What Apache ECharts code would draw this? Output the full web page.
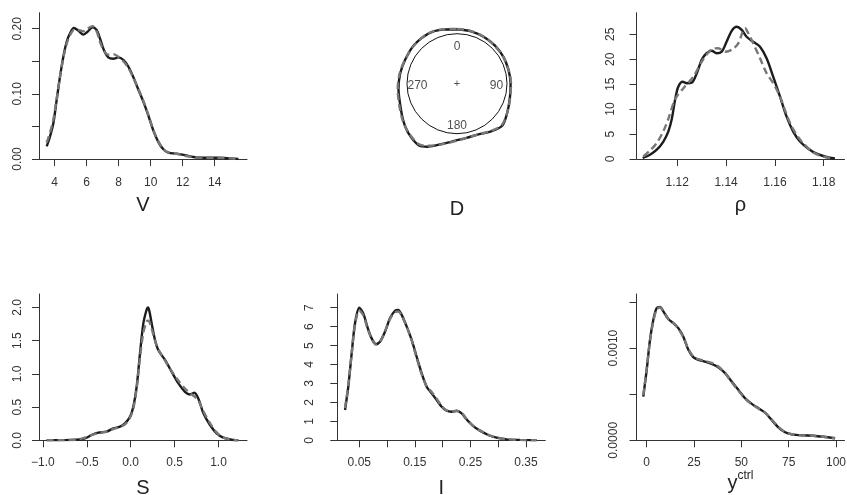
<!DOCTYPE html>
<html><head><meta charset="utf-8">
<script src="https://cdn.jsdelivr.net/npm/echarts@6/dist/echarts.min.js"></script>
<style>html,body{margin:0;padding:0;background:#fff}#c{width:847px;height:495px}</style>
</head><body><div id="c"></div>
<script>
// ---------- Panel V ----------
const V_x = [3.5,3.7,3.91,4.12,4.33,4.54,4.75,4.96,5.2,5.48,5.79,6.04,6.37,6.62,6.83,7.08,7.35,7.66,7.98,8.29,8.6,8.91,9.22,9.54,9.85,10.16,10.48,10.79,11.1,11.6,12.14,12.66,13.29,14.1,14.95,15.48];
const V_solid = [0.0195,0.034,0.054,0.090,0.126,0.157,0.180,0.193,0.201,0.197,0.191,0.195,0.202,0.198,0.185,0.167,0.156,0.154,0.156,0.152,0.142,0.126,0.107,0.088,0.067,0.044,0.026,0.015,0.0098,0.0083,0.006,0.003,0.002,0.002,0.001,0.0];
const V_dashed = [0.025,0.04,0.06,0.092,0.126,0.155,0.177,0.19,0.198,0.198,0.196,0.200,0.204,0.196,0.18,0.166,0.16,0.161,0.157,0.15,0.14,0.125,0.108,0.089,0.068,0.045,0.027,0.015,0.01,0.008,0.005,0.003,0.002,0.002,0.001,0.0];
const V_xticks = [4,6,8,10,12,14];
const V_yticks = [0,0.05,0.10,0.15,0.20];
const V_ylabels = [0,0.10,0.20];

// ---------- Panel D (circular) ----------
const D_angle = [0,15,30,45,60,75,90,105,120,133,145,157,170,180,192,205,212,224,236,250,265,280,295,312,330,345,360];
const D_solid = [1.09,1.085,1.08,1.075,1.072,1.066,1.072,1.095,1.16,1.235,1.17,1.10,1.10,1.13,1.22,1.39,1.45,1.39,1.30,1.21,1.175,1.155,1.142,1.155,1.155,1.12,1.09];
const D_dashed = [1.095,1.09,1.08,1.07,1.07,1.07,1.08,1.10,1.16,1.22,1.16,1.10,1.10,1.14,1.23,1.37,1.43,1.38,1.31,1.23,1.19,1.165,1.145,1.15,1.16,1.125,1.095];
const D_labels = [0,90,180,270];

// ---------- Panel rho ----------
const R_x = [1.1058,1.1088,1.1116,1.1143,1.1163,1.1177,1.1191,1.1204,1.1222,1.1239,1.1259,1.128,1.13,1.132,1.1341,1.1361,1.1382,1.1402,1.1423,1.1443,1.1464,1.1484,1.1511,1.1539,1.1566,1.1593,1.1621,1.1648,1.1675,1.1703,1.1737,1.1771,1.1812,1.1846];
const R_solid = [0.2,0.86,1.86,3.5,5.5,7.9,11.9,14.5,15.5,15.2,15.3,17.2,19.9,21.2,21.7,21.2,21.5,23.5,25.7,26.5,25.9,24.5,23.5,22.5,20.2,16.5,12.5,8.5,5.5,3.5,2.06,1.06,0.4,0.1];
const R_xd = [1.1061,1.1088,1.1116,1.1143,1.1163,1.1191,1.1225,1.1266,1.13,1.1341,1.1368,1.1396,1.1423,1.145,1.1468,1.1478,1.1491,1.1511,1.1539,1.1566,1.1593,1.1621,1.1662,1.1703,1.1757,1.1798,1.184];
const R_dashed = [0.5,1.7,3.2,5.6,8.0,12.0,14.2,16.5,19.5,22.0,22.2,21.5,21.9,23.2,25.5,26.2,25.2,23.2,20.2,17.2,15.2,12.5,7.2,3.9,1.3,0.5,0.1];
const R_xticks = [1.12,1.14,1.16,1.18];
const R_yticks = [0,5,10,15,20,25];

// ---------- Panel S ----------
const S_x = [-0.957,-0.615,-0.52,-0.444,-0.369,-0.273,-0.198,-0.122,-0.065,-0.008,0.03,0.068,0.106,0.144,0.182,0.197,0.212,0.239,0.277,0.314,0.391,0.467,0.542,0.618,0.675,0.725,0.77,0.827,0.903,0.979,1.055,1.169,1.226];
const S_solid = [0.0,0.01,0.03,0.08,0.115,0.13,0.18,0.205,0.256,0.355,0.506,0.807,1.31,1.76,1.97,2.0,1.95,1.76,1.51,1.36,1.21,1.03,0.86,0.73,0.69,0.717,0.63,0.41,0.23,0.105,0.04,0.005,0.0];
const S_dashed = [0.0,0.01,0.04,0.08,0.11,0.13,0.17,0.2,0.24,0.34,0.48,0.78,1.25,1.62,1.79,1.8,1.79,1.68,1.5,1.37,1.2,1.04,0.9,0.78,0.71,0.66,0.6,0.44,0.26,0.12,0.04,0.005,0.0];
const S_xticks = [-1.0,-0.5,0.0,0.5,1.0];
const S_yticks = [0,0.5,1.0,1.5,2.0];

// ---------- Panel I ----------
const I_x = [0.0243,0.0302,0.0363,0.0423,0.05,0.0572,0.0644,0.0723,0.08,0.0872,0.0962,0.1052,0.1142,0.1201,0.1263,0.1353,0.1442,0.1532,0.1622,0.1712,0.1802,0.1892,0.1982,0.2072,0.2162,0.2252,0.2342,0.2432,0.2551,0.2671,0.2821,0.2971,0.3151,0.339,0.369];
const I_solid = [1.6,2.83,4.59,6.18,7.0,6.7,6.0,5.38,5.08,5.2,5.73,6.44,6.84,6.88,6.62,6.0,5.3,4.41,3.54,2.83,2.48,2.13,1.77,1.56,1.51,1.56,1.42,1.1,0.75,0.51,0.28,0.14,0.05,0.02,0.0];
const I_dashed = [1.7,2.9,4.6,6.1,6.85,6.6,5.95,5.35,5.05,5.2,5.75,6.4,6.75,6.8,6.6,6.0,5.3,4.35,3.5,2.85,2.55,2.2,1.8,1.58,1.52,1.55,1.45,1.12,0.76,0.52,0.29,0.15,0.06,0.02,0.0];
const I_xticks = [0.05,0.10,0.15,0.20,0.25,0.30,0.35];
const I_xlabels = [0.05,0.15,0.25,0.35];
const I_yticks = [0,1,2,3,4,5,6,7];

// ---------- Panel y^ctrl ----------
const Y_x = [-1.8,0,1.74,3.5,5.28,7.03,8.8,11.4,14.1,16.7,19.3,22,24.6,27.3,30.8,34.3,37.8,41.4,44.9,48.4,51.9,55.5,59,62.5,66,69.5,73.1,76.6,81.9,88,93.3,99.5];
const Y_solid = [0.000474,0.000764,0.00109,0.001308,0.001435,0.001446,0.001398,0.001315,0.001272,0.001217,0.001126,0.000982,0.000902,0.000873,0.000854,0.000829,0.000793,0.000728,0.000637,0.000547,0.000457,0.000395,0.000348,0.000300,0.000221,0.000141,0.000087,0.000065,0.000054,0.000050,0.000039,0.000022];
const Y_dashed = [0.00049,0.00078,0.00108,0.00129,0.00142,0.00144,0.00140,0.00132,0.00127,0.00121,0.00112,0.00099,0.00091,0.00088,0.00086,0.00084,0.00080,0.00073,0.00063,0.00054,0.000455,0.00039,0.000345,0.00030,0.000225,0.000145,0.00009,0.000066,0.000054,0.00005,0.000038,0.000022];
const Y_xticks = [0,25,50,75,100];
const Y_yticks = [0,0.0005,0.0010,0.0015];
const Y_ylabels = [0,0.0010];

// ---------- build ----------
const FONT = "'Liberation Sans', Arial, Helvetica, sans-serif";
const AX = '#333';
const SOLID = '#1c1c1c';
const DASH = '#777777';
const LW = 2.4;
const pairs = (xs, ys) => xs.map((x, i) => [x, ys[i]]);
const num = d => v => (v < 0 ? '\u2212' : '') + Math.abs(v).toFixed(d);

const gridBase = {outerBoundsMode: 'none', containLabel: false};
const grids = [
  Object.assign({left: 39, top: 12.7, width: 208, height: 146.3}, gridBase),
  Object.assign({left: 636.5, top: 12.7, width: 208, height: 146.3}, gridBase),
  Object.assign({left: 39, top: 294, width: 208, height: 146.3}, gridBase),
  Object.assign({left: 337.3, top: 294, width: 208, height: 146.3}, gridBase),
  Object.assign({left: 636.5, top: 294, width: 208, height: 146.3}, gridBase)
];

function xAx(i, min, max, ticks, labels, fmt, lmargin, name, gap, nameStyle) {
  return {
    type: 'value', gridIndex: i, min, max,
    axisLine: {show: true, onZero: false, lineStyle: {color: AX, width: 1}},
    axisTick: {show: true, inside: false, length: 7, customValues: ticks, lineStyle: {color: AX, width: 1}},
    axisLabel: {show: true, customValues: labels, formatter: fmt, color: '#333', fontSize: 12, fontFamily: FONT, margin: lmargin},
    splitLine: {show: false},
    name, nameLocation: 'middle', nameGap: gap, nameMoveOverlap: false,
    nameTextStyle: nameStyle || {fontSize: 20, color: '#222', fontFamily: FONT, verticalAlign: 'middle'}
  };
}
function yAx(i, max, ticks, labels, fmt, margin) {
  return {
    type: 'value', gridIndex: i, min: 0, max,
    axisLine: {show: true, onZero: false, lineStyle: {color: AX, width: 1}},
    axisTick: {show: true, inside: false, length: 7, customValues: ticks, lineStyle: {color: AX, width: 1}},
    axisLabel: {show: true, customValues: labels, formatter: fmt, rotate: 90, color: '#333', fontSize: 12, fontFamily: FONT, margin},
    splitLine: {show: false}
  };
}

const xAxes = [
  xAx(0, 3.019, 16.019, V_xticks, V_xticks, num(0), 17.5, 'V', 46.8),
  xAx(1, 1.10328, 1.18853, R_xticks, R_xticks, num(2), 17.5, '\u03c1', 46.8),
  xAx(2, -1.0444, 1.3246, S_xticks, S_xticks, num(1), 16, 'S', 48.6),
  xAx(3, 0.01041, 0.38472, I_xticks, I_xlabels, num(2), 16, 'I', 48.6),
  xAx(4, -5.387, 104.47, Y_xticks, Y_xticks, num(0), 16, '{a|y}{b|ctrl}', 41.5, {
    fontFamily: FONT, color: '#222', verticalAlign: 'middle',
    rich: {a: {fontSize: 20, fontFamily: FONT, color: '#222', lineHeight: 24, verticalAlign: 'bottom'},
           b: {fontSize: 12, fontFamily: FONT, color: '#222', verticalAlign: 'top', lineHeight: 8}}
  })
];
const yAxes = [
  yAx(0, 0.2246, V_yticks, V_ylabels, num(2), 15.8),
  yAx(1, 29.33, R_yticks, R_yticks, num(0), 19.9),
  yAx(2, 2.203, S_yticks, S_yticks, num(1), 15.5),
  yAx(3, 7.724, I_yticks, I_yticks, num(0), 21.3),
  yAx(4, 0.001587, Y_yticks, Y_ylabels, num(4), 16.7)
];

function pair(i, xs, ys, xd, yd) {
  return [
    {type: 'line', xAxisIndex: i, yAxisIndex: i, data: pairs(xs, ys), smooth: 0.3, symbol: 'none',
     lineStyle: {color: SOLID, width: LW}, z: 3, silent: true},
    {type: 'line', xAxisIndex: i, yAxisIndex: i, data: pairs(xd, yd), smooth: 0.3, symbol: 'none',
     lineStyle: {color: DASH, width: LW, type: [7, 4]}, z: 4, silent: true}
  ];
}

const series = [].concat(
  pair(0, V_x, V_solid, V_x, V_dashed),
  pair(1, R_x, R_solid, R_xd, R_dashed),
  pair(2, S_x, S_solid, S_x, S_dashed),
  pair(3, I_x, I_solid, I_x, I_dashed),
  pair(4, Y_x, Y_solid, Y_x, Y_dashed),
  [
    {type: 'line', coordinateSystem: 'polar', polarIndex: 1, data: D_angle.map((a, i) => [D_solid[i], a]),
     smooth: 0.3, symbol: 'none', lineStyle: {color: SOLID, width: LW}, z: 3, silent: true},
    {type: 'line', coordinateSystem: 'polar', polarIndex: 1, data: D_angle.map((a, i) => [D_dashed[i], a]),
     smooth: 0.3, symbol: 'none', lineStyle: {color: DASH, width: LW, type: [7, 4]}, z: 4, silent: true},
    {type: 'scatter', coordinateSystem: 'polar', polarIndex: 1, symbolSize: 1, itemStyle: {color: 'rgba(0,0,0,0)'},
     data: D_labels.map(a => [0.79, a]), silent: true,
     label: {show: true, position: 'inside', formatter: p => String(p.value[1]), color: '#222', fontSize: 12, fontFamily: FONT, offset: [0, 2]}},
    {type: 'scatter', coordinateSystem: 'polar', polarIndex: 1, symbolSize: 1, itemStyle: {color: 'rgba(0,0,0,0)'},
     data: [[0, 0]], silent: true,
     label: {show: true, position: 'inside', formatter: '+', color: '#222', fontSize: 11, fontFamily: FONT}}
  ]
);

const option = {
  animation: false,
  backgroundColor: '#fff',
  title: [{text: 'D', left: 457, top: 199, textAlign: 'center', padding: 0,
           textStyle: {fontSize: 20, fontWeight: 'normal', color: '#222', fontFamily: FONT}}],
  grid: grids,
  xAxis: xAxes,
  yAxis: yAxes,
  polar: [{center: [457, 83.7], radius: 50}, {center: [457, 83.7], radius: 80}],
  angleAxis: [
    {polarIndex: 0, type: 'value', min: 0, max: 360, startAngle: 90, clockwise: true,
     axisLine: {show: true, lineStyle: {color: '#111', width: 1}}, axisTick: {show: false}, axisLabel: {show: false}, splitLine: {show: false}},
    {polarIndex: 1, type: 'value', min: 0, max: 360, startAngle: 90, clockwise: true,
     axisLine: {show: false}, axisTick: {show: false}, axisLabel: {show: false}, splitLine: {show: false}}
  ],
  radiusAxis: [
    {polarIndex: 0, type: 'value', min: 0, max: 1, show: false},
    {polarIndex: 1, type: 'value', min: 0, max: 1.6, show: false}
  ],
  series
};
const chart = echarts.init(document.getElementById('c'), null, {renderer: 'canvas'});
chart.setOption(option);
</script>
</body></html>
